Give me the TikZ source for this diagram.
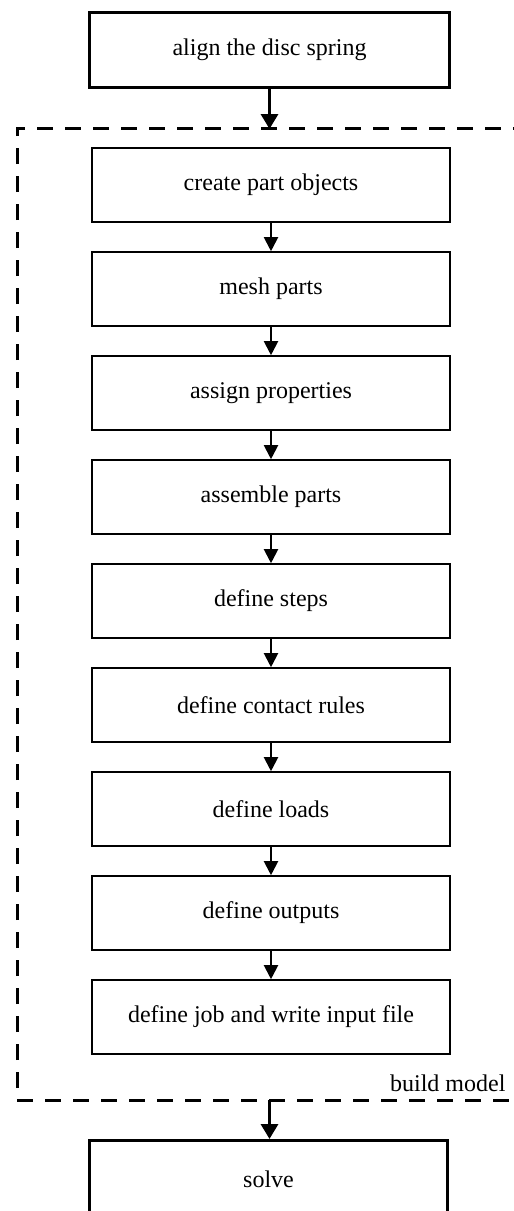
\documentclass[tikz,border=0pt]{standalone}
\usepackage{fontspec}
\setmainfont{Liberation Serif}
\usetikzlibrary{arrows.meta}
\begin{document}
\begin{tikzpicture}[x=1pt,y=-1pt,
  outerbox/.style={draw,line width=3pt,minimum width=360pt,minimum height=75pt,inner sep=0pt,font=\fontsize{24}{28}\selectfont},
  innerbox/.style={draw,line width=1.6pt,minimum width=358.5pt,minimum height=74pt,inner sep=0pt,font=\fontsize{24}{28}\selectfont},
  bigarrow/.style={line width=3.2pt,-{Triangle[width=17pt,length=15pt]}},
  smallarrow/.style={line width=2pt,-{Triangle[width=14pt,length=14pt]}},
  dashline/.style={line width=3pt,dash pattern=on 16pt off 12pt}]
\clip (0,0) rectangle (514,1211);
\fill[white] (0,0) rectangle (514,1211);
% group frame
\draw[dashline] (17,1088) -- (17,128) -- (530,128);
\draw[dashline] (17,1100) -- (530,1100);
\node[anchor=base east,font=\fontsize{24}{28}\selectfont] (lbl) at (509,1091) {build model};
% outer boxes
\node[outerbox] (top) at (269.5,50) {align the disc spring};
\node[outerbox,minimum width=358pt,minimum height=100pt] (solve) at (268.5,1190.5) {};
\node[font=\fontsize{24}{28}\selectfont] (solvet) at (268.5,1179) {solve};
% inner boxes
\node[innerbox] (b1) at (271,185) {create part objects};
\node[innerbox] (b2) at (271,289) {mesh parts};
\node[innerbox] (b3) at (271,393) {assign properties};
\node[innerbox] (b4) at (271,497) {assemble parts};
\node[innerbox] (b5) at (271,601) {define steps};
\node[innerbox] (b6) at (271,705) {define contact rules};
\node[innerbox] (b7) at (271,809) {define loads};
\node[innerbox] (b8) at (271,913) {define outputs};
\node[innerbox] (b9) at (271,1017) {define job and write input file};
% connectors
\coordinate (d1) at (269.5,129);
\coordinate (d2) at (269.5,1100);
\draw[bigarrow] (top.south) -- (d1);
\draw[bigarrow] (d2) -- (solve.north -| d2);
\foreach \a/\b in {b1/b2,b2/b3,b3/b4,b4/b5,b5/b6,b6/b7,b7/b8,b8/b9}
  \draw[smallarrow] (\a.south) -- (\b.north);
\end{tikzpicture}
\end{document}
